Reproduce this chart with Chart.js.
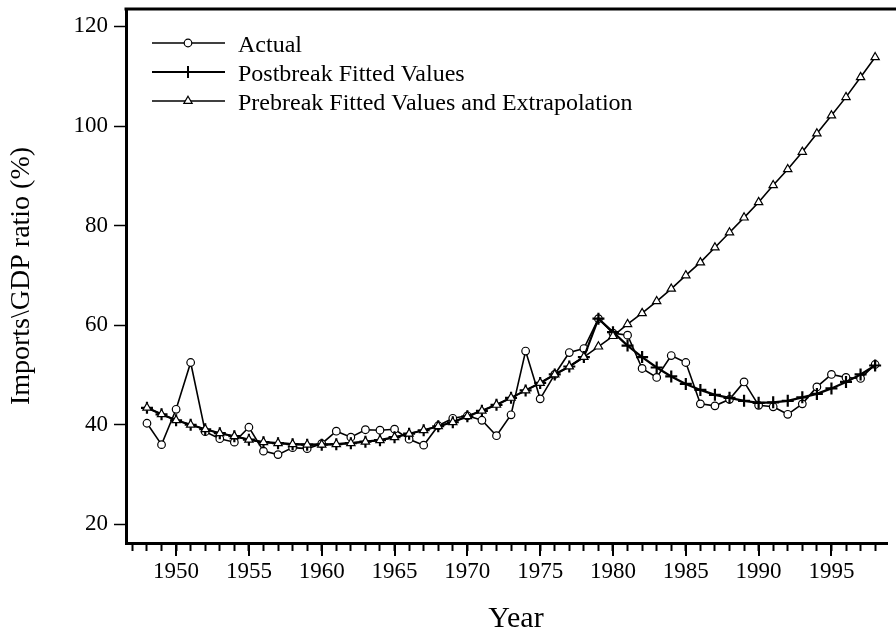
<!DOCTYPE html>
<html>
<head>
<meta charset="utf-8">
<script src="https://cdn.jsdelivr.net/npm/chart.js@4/dist/chart.umd.min.js"></script>
<style>
  html, body { margin: 0; padding: 0; background: #fff; }
  #chart { display: block; }
</style>
</head>
<body>
<canvas id="chart" width="896" height="634"></canvas>
<script>
// Imports/GDP ratio, actual vs fitted values
var years = [
  1948, 1949, 1950, 1951, 1952, 1953, 1954, 1955, 1956, 1957,
  1958, 1959, 1960, 1961, 1962, 1963, 1964, 1965, 1966, 1967,
  1968, 1969, 1970, 1971, 1972, 1973, 1974, 1975, 1976, 1977,
  1978, 1979, 1980, 1981, 1982, 1983, 1984, 1985, 1986, 1987,
  1988, 1989, 1990, 1991, 1992, 1993, 1994, 1995, 1996, 1997,
  1998
];

var actual = [
  40.3, 36.0, 43.1, 52.5, 38.6, 37.2, 36.5, 39.5, 34.7, 34.0,
  35.4, 35.2, 36.2, 38.7, 37.5, 39.0, 38.9, 39.1, 37.1, 35.9,
  39.8, 41.3, 41.8, 40.9, 37.8, 42.0, 54.8, 45.2, 50.1, 54.5,
  55.3, 61.3, 58.4, 58.0, 51.3, 49.5, 53.9, 52.5, 44.2, 43.8,
  45.1, 48.6, 43.9, 43.6, 42.1, 44.2, 47.6, 50.1, 49.5, 49.3,
  52.1
];

var postbreak = [
  43.4, 42.1, 40.9, 40.0, 39.1, 38.3, 37.7, 37.0, 36.5, 36.3,
  36.1, 36.0, 36.0, 36.1, 36.3, 36.6, 36.9, 37.5, 38.2, 38.9,
  39.7, 40.5, 41.7, 42.8, 44.0, 45.4, 46.9, 48.4, 50.1, 51.7,
  53.6, 61.3, 58.6, 55.9, 53.6, 51.5, 49.7, 48.2, 47.0, 46.0,
  45.4, 44.8, 44.4, 44.5, 44.8, 45.5, 46.2, 47.3, 48.6, 50.1,
  51.9
];

var prebreak = [
  43.4, 42.1, 40.9, 40.0, 39.1, 38.3, 37.7, 37.0, 36.5, 36.3,
  36.1, 36.0, 36.0, 36.1, 36.3, 36.6, 36.9, 37.5, 38.2, 38.9,
  39.7, 40.5, 41.7, 42.8, 44.0, 45.4, 46.9, 48.4, 50.1, 51.7,
  53.6, 55.7, 57.8, 60.2, 62.4, 64.8, 67.3, 70.0, 72.6, 75.6,
  78.6, 81.6, 84.7, 88.1, 91.3, 94.8, 98.5, 102.1, 105.8, 109.8,
  113.8
];

var yTicks = [20, 40, 60, 80, 100, 120];
var seriesNames = ['Actual', 'Postbreak Fitted Values', 'Prebreak Fitted Values and Extrapolation'];
var xTitle = 'Year';
var yTitle = 'Imports\\GDP ratio (%)';

(function () {
  var SERIF = "'Liberation Serif', 'Times New Roman', serif";

  function points(vals) {
    return years.map(function (y, i) {
      return { x: y, y: vals[i] };
    });
  }

  function drawMarker(ctx, kind, x, y) {
    ctx.save();
    ctx.strokeStyle = '#000';
    ctx.fillStyle = '#fff';
    if (kind === 0) {
      ctx.lineWidth = 1.2;
      ctx.beginPath();
      ctx.arc(x, y, 3.8, 0, Math.PI * 2);
      ctx.fill();
      ctx.stroke();
    } else if (kind === 1) {
      ctx.lineWidth = 2;
      ctx.beginPath();
      ctx.moveTo(x, y - 6);
      ctx.lineTo(x, y + 6);
      ctx.moveTo(x - 6, y);
      ctx.lineTo(x + 6, y);
      ctx.stroke();
    } else {
      var r = 4.8;
      ctx.lineWidth = 1.2;
      ctx.beginPath();
      ctx.moveTo(x, y - r);
      ctx.lineTo(x + r * 0.866, y + r * 0.5);
      ctx.lineTo(x - r * 0.866, y + r * 0.5);
      ctx.closePath();
      ctx.fill();
      ctx.stroke();
    }
    ctx.restore();
  }

  // top frame line, major x ticks, x title, legend with line + marker
  var decor = {
    id: 'decor',
    afterDraw: function (chart) {
      var ctx = chart.ctx;
      var area = chart.chartArea;
      var xs = chart.scales.x;

      ctx.save();
      ctx.strokeStyle = '#000';
      ctx.lineWidth = 3;
      ctx.beginPath();
      ctx.moveTo(area.left - 1.5, area.top);
      ctx.lineTo(chart.width, area.top);
      ctx.stroke();

      ctx.lineWidth = 2;
      years.forEach(function (y) {
        if (y % 5 !== 0) return;
        var px = Math.round(xs.getPixelForValue(y));
        ctx.beginPath();
        ctx.moveTo(px, area.bottom);
        ctx.lineTo(px, area.bottom + 13);
        ctx.stroke();
      });

      ctx.fillStyle = '#000';
      ctx.textAlign = 'center';
      ctx.textBaseline = 'alphabetic';
      ctx.font = '30px ' + SERIF;
      ctx.fillText(xTitle, 516, 627);

      // legend
      var rowY = [43, 72, 101];
      ctx.textAlign = 'left';
      ctx.font = '24px ' + SERIF;
      for (var i = 0; i < 3; i++) {
        var cy = rowY[i];
        ctx.lineWidth = i === 1 ? 2 : 1.5;
        ctx.beginPath();
        ctx.moveTo(152, cy);
        ctx.lineTo(225, cy);
        ctx.stroke();
        drawMarker(ctx, i, 188, cy);
        ctx.fillStyle = '#000';
        ctx.fillText(seriesNames[i], 238, cy + 9);
      }
      ctx.restore();
    }
  };

  new Chart(document.getElementById('chart').getContext('2d'), {
    type: 'line',
    data: {
      datasets: [
        {
          label: seriesNames[2],
          data: points(prebreak),
          borderColor: '#000',
          borderWidth: 1.6,
          pointStyle: 'triangle',
          pointRadius: 4.8,
          pointBackgroundColor: '#fff',
          pointBorderColor: '#000',
          pointBorderWidth: 1.2,
          tension: 0
        },
        {
          label: seriesNames[1],
          data: points(postbreak),
          borderColor: '#000',
          borderWidth: 2.2,
          pointStyle: 'cross',
          pointRadius: 6,
          pointBorderColor: '#000',
          pointBorderWidth: 2.2,
          tension: 0
        },
        {
          label: seriesNames[0],
          data: points(actual),
          borderColor: '#000',
          borderWidth: 1.6,
          pointStyle: 'circle',
          pointRadius: 3.8,
          pointBackgroundColor: '#fff',
          pointBorderColor: '#000',
          pointBorderWidth: 1.2,
          tension: 0
        }
      ]
    },
    options: {
      responsive: false,
      animation: false,
      devicePixelRatio: 1,
      layout: { padding: { top: 9, right: 0, bottom: 0, left: 0 } },
      plugins: {
        legend: { display: false },
        tooltip: { enabled: false }
      },
      scales: {
        x: {
          type: 'linear',
          min: 1946.56,
          max: 1998.87,
          afterFit: function (s) {
            s.height = 91;
            s.paddingLeft = 0;
            s.paddingRight = 0;
          },
          border: { display: true, color: '#000', width: 3 },
          grid: {
            drawOnChartArea: false,
            drawTicks: true,
            tickLength: 8,
            tickWidth: 2,
            tickColor: '#000',
            color: '#000'
          },
          ticks: {
            stepSize: 1,
            autoSkip: false,
            includeBounds: false,
            maxRotation: 0,
            padding: 7,
            color: '#000',
            font: { family: SERIF, size: 23 },
            callback: function (v) { return v % 5 === 0 ? String(v) : ''; }
          }
        },
        y: {
          min: 16.25,
          max: 123.5,
          afterFit: function (s) {
            s.width = 126;
            s.paddingTop = 0;
            s.paddingBottom = 0;
          },
          afterBuildTicks: function (s) {
            s.ticks = yTicks.map(function (v) { return { value: v }; });
          },
          border: { display: true, color: '#000', width: 3 },
          grid: {
            drawOnChartArea: false,
            drawTicks: true,
            tickLength: 12,
            tickWidth: 1.5,
            tickColor: '#000',
            color: '#000'
          },
          ticks: {
            padding: 6,
            color: '#000',
            font: { family: SERIF, size: 23 }
          },
          title: {
            display: true,
            text: yTitle,
            color: '#000',
            padding: { top: 5, bottom: 0 },
            font: { family: SERIF, size: 28 }
          }
        }
      }
    },
    plugins: [decor]
  });
})();
</script>
</body>
</html>
